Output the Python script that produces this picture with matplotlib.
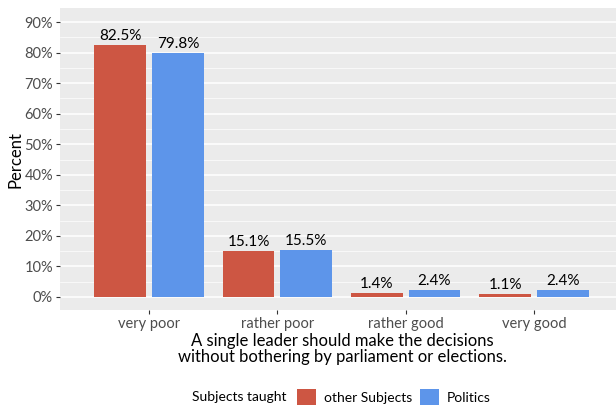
import numpy as np
import matplotlib
matplotlib.use("Agg")
import matplotlib.pyplot as plt
from matplotlib.patches import Patch

categories = ["very poor", "rather poor", "rather good", "very good"]
other_subjects = [82.5, 15.1, 1.4, 1.1]
politics = [79.8, 15.5, 2.4, 2.4]
series_names = ["other Subjects", "Politics"]
colors = ["#CD5643", "#5D95EA"]

plt.rcParams["font.family"] = ["Lato", "DejaVu Sans"]

W, H = 616, 409
fig = plt.figure(figsize=(W / 100, H / 100), dpi=100)
ax = fig.add_axes([60 / W, 1 - 310 / H, 1 - 60 / W, (310 - 7.5) / H])
ax.set_facecolor("#EBEBEB")
for s in ax.spines.values():
    s.set_visible(False)

x = np.arange(len(categories))
width = 0.403
off = 0.225
for vals, sign, col in [(other_subjects, -1, colors[0]), (politics, 1, colors[1])]:
    bars = ax.bar(x + sign * off, vals, width=width, color=col, zorder=3)
    for b, v in zip(bars, vals):
        ax.text(b.get_x() + b.get_width() / 2, v + 0.6, f"{v:.1f}%",
                ha="center", va="bottom", fontsize=11, color="black", zorder=4)

ax.set_xlim(-0.695, 3.64)
ax.set_ylim(-4.3, 94.8)
ax.set_yticks(np.arange(0, 91, 10))
ax.set_yticklabels([f"{v}%" for v in range(0, 91, 10)])
ax.set_yticks(np.arange(5, 91, 10), minor=True)
ax.set_xticks(x)
ax.set_xticklabels(categories)
ax.grid(which="major", axis="y", color="white", linewidth=1.1, zorder=0)
ax.grid(which="minor", axis="y", color="white", linewidth=0.5, zorder=0)
ax.tick_params(which="major", length=3, width=0.8, color="#333333",
               labelcolor="#4D4D4D", labelsize=10.5, pad=2)
ax.tick_params(which="minor", length=0)
ax.set_axisbelow(True)

fig.text(15 / W, 1 - 160 / H, "Percent", rotation=90, ha="center", va="center",
         fontsize=12, color="black")
fig.text(342 / W, 1 - 349 / H,
         "A single leader should make the decisions\nwithout bothering by parliament or elections.",
         ha="center", va="center", fontsize=12, color="black", linespacing=1.0)

fig.text(192 / W, 1 - 397 / H, "Subjects taught", ha="left", va="center",
         fontsize=10, color="black")
handles = [Patch(facecolor=c, edgecolor="none") for c in colors]
fig.legend(handles, series_names, loc="center left",
           bbox_to_anchor=(297 / W, 1 - 397 / H), ncol=2, frameon=False,
           fontsize=10, handlelength=1.4, handleheight=1.5,
           handletextpad=0.55, columnspacing=0.55, borderaxespad=0, borderpad=0)

fig.savefig("out.png", dpi=100)
